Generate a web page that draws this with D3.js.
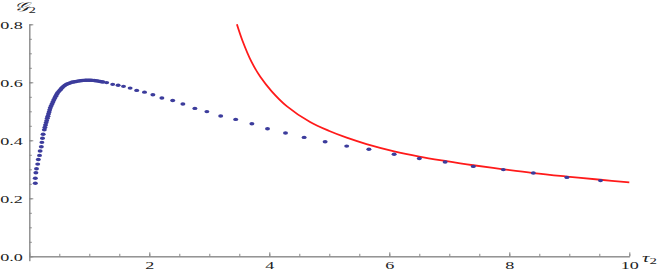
<!DOCTYPE html>
<html>
<head>
<meta charset="utf-8">
<script src="https://cdn.jsdelivr.net/npm/d3@7"></script>
<style>
  html, body { margin: 0; padding: 0; background: #fff; }
  svg { display: block; }
  .lbl { font-family: "Liberation Serif", "DejaVu Serif", serif; fill: #222; }
</style>
</head>
<body>
<div id="chart"></div>
<script>
// numeric dots (tau2, G2)
const dotX = [0.10, 0.10, 0.11, 0.12, 0.14, 0.15, 0.17, 0.18, 0.20, 0.21, 0.22, 0.23, 0.25, 0.26, 0.27, 0.28,
  0.29, 0.30, 0.31, 0.32, 0.33, 0.34, 0.35, 0.365, 0.38, 0.395, 0.41, 0.425, 0.44, 0.455, 0.47, 0.49, 0.51, 0.53,
  0.55, 0.57, 0.59, 0.61, 0.63, 0.655, 0.68, 0.705, 0.73, 0.755, 0.78, 0.805, 0.83, 0.855, 0.88, 0.905, 0.93,
  0.955, 0.98, 1.005, 1.03, 1.055, 1.08, 1.105, 1.13, 1.155, 1.18, 1.205, 1.23,
  1.29, 1.39, 1.48, 1.57, 1.68, 1.79, 1.92, 2.06, 2.21, 2.39, 2.56, 2.76, 2.96, 3.19, 3.44, 3.71, 3.97,
  4.27, 4.58, 4.93, 5.29, 5.66, 6.08, 6.50, 6.93, 7.40, 7.90, 8.40, 8.96, 9.52];
const dotY = [0.252, 0.269, 0.288, 0.302, 0.318, 0.334, 0.348, 0.363, 0.378, 0.393, 0.407, 0.421, 0.436, 0.444, 0.453, 0.461,
  0.468, 0.476, 0.483, 0.491, 0.498, 0.505, 0.512, 0.519, 0.526, 0.533, 0.540, 0.546, 0.552, 0.558, 0.563, 0.568, 0.573, 0.578,
  0.582, 0.586, 0.589, 0.592, 0.594, 0.596, 0.598, 0.600, 0.601, 0.602, 0.603, 0.604, 0.605, 0.6055, 0.606, 0.6065, 0.607,
  0.607, 0.607, 0.607, 0.607, 0.6065, 0.606, 0.6055, 0.605, 0.604, 0.603, 0.602, 0.601,
  0.599, 0.593, 0.590, 0.586, 0.580, 0.572, 0.566, 0.557, 0.546, 0.537, 0.525, 0.510, 0.499, 0.484, 0.472, 0.457, 0.440,
  0.425, 0.410, 0.395, 0.380, 0.369, 0.352, 0.337, 0.325, 0.310, 0.299, 0.287, 0.272, 0.261];

// asymptotic curve
const curveX = [3.46, 3.55, 3.70, 3.85, 4.04, 4.29, 4.68, 5.00, 5.29, 5.62, 6.08, 6.50, 6.93, 7.40, 7.90, 8.40, 8.96, 9.52, 10.0];
const curveY = [0.800, 0.745, 0.672, 0.619, 0.569, 0.518, 0.463, 0.432, 0.409, 0.387, 0.362, 0.344, 0.329, 0.314, 0.300, 0.287, 0.275, 0.264, 0.255];

// ticks
const xMajor = [0, 2, 4, 6, 8, 10];
const xMinor = d3.range(0, 10.01, 0.5);
const yMajor = [0, 0.2, 0.4, 0.6, 0.8];
const yMinor = d3.range(0, 0.801, 0.05);

const W = 664, H = 273;
const SX = 1.65; // the source picture is stretched sideways

const svg = d3.select('#chart').append('svg')
  .attr('width', W).attr('height', H);

const x = d3.scaleLinear().domain([0, 10]).range([29.3, 629.3]);
const y = d3.scaleLinear().domain([-0.015, 0.8]).range([260.65, 24.3]);

const axisCol = '#8a8a8a';

// x axis
const gx = svg.append('g').attr('transform', `translate(0,${y(0)})`);
gx.call(d3.axisBottom(x).tickValues(xMinor).tickSizeInner(-2.5).tickSizeOuter(0).tickFormat(''));
gx.append('g').call(d3.axisBottom(x).tickValues(xMajor).tickSizeInner(-4).tickSizeOuter(0)
  .tickPadding(4.5).tickFormat(d => d === 0 ? '' : d3.format('d')(d)));
gx.selectAll('.domain, line').attr('stroke', axisCol).attr('stroke-width', 1);
gx.selectAll('text').attr('class', 'lbl').attr('font-size', 11)
  .attr('fill', '#222').attr('transform', `scale(${SX},1)`);

// y axis
const gy = svg.append('g').attr('transform', `translate(${x(0)},0)`);
gy.call(d3.axisLeft(y).tickValues(yMinor).tickSizeInner(-2.5).tickSizeOuter(0).tickFormat(''));
gy.append('g').call(d3.axisLeft(y).tickValues(yMajor).tickSizeInner(-4).tickSizeOuter(0)
  .tickPadding(0).tickFormat(d3.format('.1f')));
gy.selectAll('.domain, line').attr('stroke', axisCol).attr('stroke-width', 1);
gy.selectAll('text').attr('class', 'lbl').attr('font-size', 11).attr('fill', '#222')
  .attr('x', -6.5 / SX).attr('dy', '0.34em').attr('transform', `scale(${SX},1)`);

// axis titles
svg.append('text').attr('class', 'lbl')
  .attr('transform', `translate(14,10.5) scale(${SX},1)`)
  .attr('font-size', 12.5).attr('font-style', 'italic')
  .html('𝒢<tspan font-size="9" dy="2" font-style="normal">2</tspan>');
svg.append('text').attr('class', 'lbl')
  .attr('transform', `translate(642,261.5) scale(${SX},1)`)
  .attr('font-size', 12.5).attr('font-style', 'italic')
  .html('τ<tspan font-size="9" dy="2.5" font-style="normal">2</tspan>');

// red curve
const pts = curveX.map((v, i) => [v, curveY[i]]);
svg.append('path')
  .datum(pts)
  .attr('fill', 'none')
  .attr('stroke', '#ff1a1a')
  .attr('stroke-width', 1.8)
  .attr('d', d3.line().x(d => x(d[0])).y(d => y(d[1])).curve(d3.curveCatmullRom.alpha(0.5)));

// dots
svg.append('g').selectAll('ellipse')
  .data(dotX.map((v, i) => [v, dotY[i]]))
  .enter().append('ellipse')
  .attr('cx', d => x(d[0]))
  .attr('cy', d => y(d[1]))
  .attr('rx', 2.5).attr('ry', 1.7)
  .attr('fill', '#3c3c9c');
</script>
</body>
</html>
